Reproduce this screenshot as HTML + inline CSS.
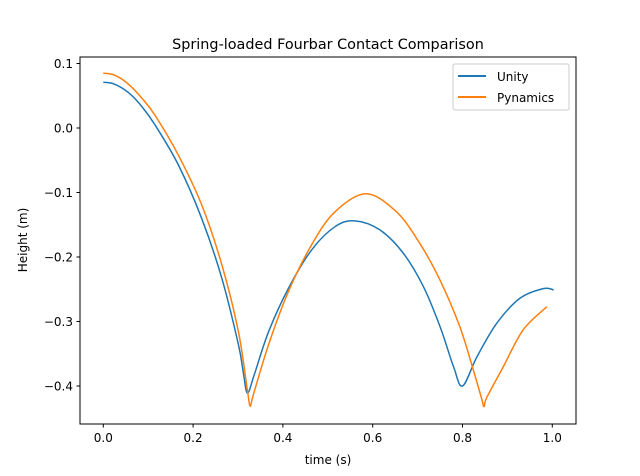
<!DOCTYPE html>
<html><head><meta charset="utf-8"><style>
body{margin:0;background:#fff;}
svg{display:block;font-family:"DejaVu Sans","Liberation Sans",sans-serif;}
</style></head><body>
<svg id="chart" width="640" height="476" viewBox="0 0 640 476">
<rect width="640" height="476" fill="#fff"/>
<text x="328" y="49" text-anchor="middle" font-size="14.4">Spring-loaded Fourbar Contact Comparison</text>
<g id="plot"></g>
<rect x="80" y="57" width="496" height="367" fill="none" stroke="#000" stroke-width="1"/>
<g id="ticks"></g>
<text x="328" y="464" text-anchor="middle" font-size="12">time (s)</text>
<text transform="translate(27,240) rotate(-90)" text-anchor="middle" font-size="12">Height (m)</text>
<g>
<rect x="453" y="64" width="116" height="46" rx="2" fill="#fff" fill-opacity="0.8" stroke="#ccc"/>
<line x1="458" y1="76" x2="486" y2="76" stroke="#1f77b4" stroke-width="2"/>
<text x="497" y="81" font-size="12">Unity</text>
<line x1="458" y1="97" x2="486" y2="97" stroke="#ff7f0e" stroke-width="2"/>
<text x="497" y="102" font-size="12">Pynamics</text>
</g>
</svg>
<script>
const xTicks=[0,0.2,0.4,0.6,0.8,1.0];
const xTickLabels=["0.0","0.2","0.4","0.6","0.8","1.0"];
const yTicks=[0.1,0,-0.1,-0.2,-0.3,-0.4];
const yTickLabels=["0.1","0.0","\u22120.1","\u22120.2","\u22120.3","\u22120.4"];
const unityT=[0,0.025,0.056,0.085,0.115,0.167,0.219,0.264,0.301,0.312,0.321,0.336,0.368,0.412,0.464,0.516,0.56,0.616,0.668,0.713,0.75,0.78,0.8,0.832,0.876,0.928,0.98,1.003];
const unityY=[0.071,0.068,0.055,0.034,0.005,-0.057,-0.140,-0.233,-0.336,-0.380,-0.411,-0.383,-0.316,-0.249,-0.189,-0.153,-0.144,-0.158,-0.194,-0.246,-0.308,-0.370,-0.400,-0.355,-0.303,-0.264,-0.249,-0.251];
const pynT=[0,0.025,0.056,0.085,0.115,0.167,0.219,0.264,0.301,0.321,0.327,0.334,0.368,0.412,0.464,0.516,0.585,0.653,0.705,0.75,0.794,0.824,0.842,0.848,0.854,0.891,0.935,0.988];
const pynY=[0.085,0.082,0.068,0.047,0.020,-0.042,-0.119,-0.212,-0.316,-0.407,-0.431,-0.414,-0.336,-0.254,-0.181,-0.130,-0.102,-0.130,-0.179,-0.236,-0.308,-0.375,-0.418,-0.432,-0.418,-0.370,-0.313,-0.277];
const X=v=>103.3+v*449;
const Y=v=>128-v*645;
const NS="http://www.w3.org/2000/svg";
const plot=document.getElementById('plot'),ticks=document.getElementById('ticks');
function mk(tag,attrs,parent){const e=document.createElementNS(NS,tag);for(const k in attrs)e.setAttribute(k,attrs[k]);parent.appendChild(e);return e;}
xTicks.forEach((t,i)=>{
 const l=mk('line',{x1:X(t),x2:X(t),y1:424,y2:427.5,stroke:'#000'},ticks);
 
 
 const tx=mk('text',{x:X(t),y:442,'text-anchor':'middle','font-size':12},ticks);tx.textContent=xTickLabels[i];
 
 
});
yTicks.forEach((t,i)=>{
 const l=mk('line',{x1:76.5,x2:80,y1:Y(t),y2:Y(t),stroke:'#000'},ticks);
 
 
 const tx=mk('text',{x:73,y:Y(t)+4.5,'text-anchor':'end','font-size':12},ticks);tx.textContent=yTickLabels[i];
 
 
});
function path(ts,ys){
 const p=ts.map((t,i)=>[X(t),Y(ys[i])]);
 let d='M'+p[0][0]+','+p[0][1];
 for(let i=0;i<p.length-1;i++){
  const p0=p[Math.max(0,i-1)],p1=p[i],p2=p[i+1],p3=p[Math.min(p.length-1,i+2)];
  const c1=[p1[0]+(p2[0]-p0[0])/6,p1[1]+(p2[1]-p0[1])/6];
  const c2=[p2[0]-(p3[0]-p1[0])/6,p2[1]-(p3[1]-p1[1])/6];
  d+=' C'+c1+' '+c2+' '+p2;
 }
 return d;
}
const u=mk('path',{d:path(unityT,unityY),fill:'none',stroke:'#1f77b4','stroke-width':1.5},plot);


const py=mk('path',{d:path(pynT,pynY),fill:'none',stroke:'#ff7f0e','stroke-width':1.5},plot);


</script>
</body></html>
